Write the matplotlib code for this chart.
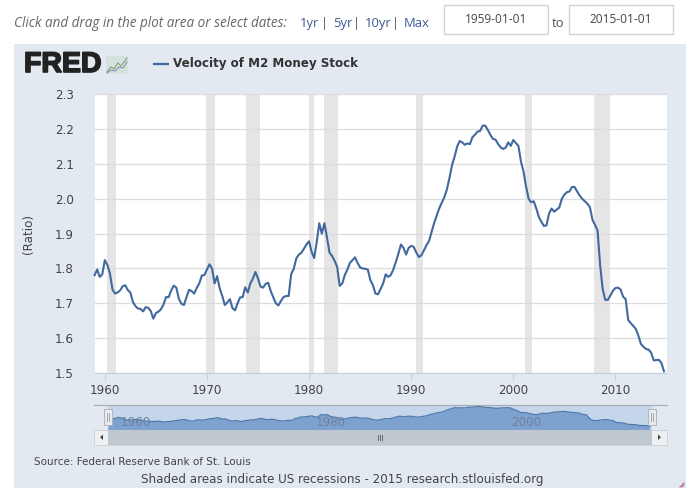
import numpy as np
import matplotlib
matplotlib.use("Agg")
import matplotlib.pyplot as plt
import matplotlib.patheffects as pe
from matplotlib.patches import Rectangle, Polygon

W, H = 700, 498

# Quarterly velocity of M2, 1959 Q1 .. 2014 Q4
velocity = [
    1.781, 1.797, 1.776, 1.783, 1.824, 1.810, 1.786, 1.740,
    1.728, 1.731, 1.737, 1.749, 1.752, 1.738, 1.731, 1.704,
    1.692, 1.685, 1.684, 1.677, 1.689, 1.687, 1.678, 1.656,
    1.672, 1.676, 1.683, 1.697, 1.718, 1.718, 1.737, 1.751,
    1.745, 1.713, 1.699, 1.695, 1.718, 1.739, 1.735, 1.728,
    1.744, 1.757, 1.780, 1.781, 1.797, 1.812, 1.800, 1.757,
    1.778, 1.743, 1.721, 1.695, 1.703, 1.712, 1.686, 1.680,
    1.700, 1.717, 1.718, 1.746, 1.731, 1.757, 1.771, 1.790,
    1.771, 1.748, 1.745, 1.756, 1.759, 1.735, 1.717, 1.700,
    1.694, 1.707, 1.718, 1.721, 1.721, 1.784, 1.799, 1.829,
    1.840, 1.845, 1.857, 1.869, 1.878, 1.848, 1.830, 1.876,
    1.930, 1.900, 1.930, 1.890, 1.846, 1.836, 1.822, 1.805,
    1.750, 1.757, 1.781, 1.797, 1.816, 1.824, 1.832, 1.816,
    1.803, 1.800, 1.799, 1.797, 1.767, 1.752, 1.728, 1.726,
    1.741, 1.757, 1.783, 1.776, 1.781, 1.797, 1.819, 1.843,
    1.869, 1.859, 1.840, 1.859, 1.865, 1.862, 1.846, 1.833,
    1.838, 1.852, 1.867, 1.879, 1.905, 1.931, 1.952, 1.973,
    1.989, 2.005, 2.027, 2.060, 2.097, 2.121, 2.150, 2.166,
    2.162, 2.155, 2.159, 2.157, 2.177, 2.184, 2.193, 2.195,
    2.210, 2.210, 2.198, 2.184, 2.172, 2.170, 2.158, 2.148,
    2.143, 2.147, 2.162, 2.152, 2.169, 2.160, 2.152, 2.107,
    2.078, 2.035, 2.000, 1.990, 1.993, 1.972, 1.948, 1.934,
    1.922, 1.924, 1.958, 1.972, 1.963, 1.969, 1.975, 2.000,
    2.012, 2.019, 2.021, 2.034, 2.034, 2.021, 2.009, 2.000,
    1.993, 1.986, 1.976, 1.940, 1.925, 1.909, 1.810, 1.741,
    1.710, 1.710, 1.722, 1.736, 1.744, 1.745, 1.740, 1.719,
    1.712, 1.652, 1.643, 1.635, 1.626, 1.607, 1.583, 1.575,
    1.569, 1.567, 1.558, 1.536, 1.537, 1.538, 1.529, 1.505,
]
years = [1959 + i / 4 for i in range(len(velocity))]

recession_start = [1960.25, 1969.92, 1973.83, 1980.0, 1981.5, 1990.5, 2001.17, 2007.92]
recession_end = [1961.08, 1970.83, 1975.17, 1980.5, 1982.83, 1991.17, 2001.83, 2009.42]

x_ticks = [1960, 1970, 1980, 1990, 2000, 2010]
y_ticks = [1.5, 1.6, 1.7, 1.8, 1.9, 2.0, 2.1, 2.2, 2.3]
nav_labels = ["1960", "1980", "2000"]
series_name = "Velocity of M2 Money Stock"

PANEL = "#e2e9f1"
LINE = "#41699e"
GRAY = "#555555"
LINK = "#3c5a94"
plt.rcParams["font.family"] = ["DejaVu Sans"]


def px_axes(fig, x0, y0, x1, y1, **kw):
    return fig.add_axes([x0 / W, 1 - y1 / H, (x1 - x0) / W, (y1 - y0) / H], **kw)


fig = plt.figure(figsize=(W / 100, H / 100), dpi=100, facecolor="white")

# Page layer, in pixel coordinates
bg = px_axes(fig, 0, 0, W, H)
bg.set_xlim(0, W)
bg.set_ylim(H, 0)
bg.axis("off")
bg.add_patch(Rectangle((14, 44), 672, 444, fc=PANEL, ec="none"))

bg.text(14, 23, "Click and drag in the plot area or select dates:", style="italic",
        family="Open Sans", fontsize=9.75, color="#666666", va="center")
link_x = [300, 321, 333, 353, 365, 392, 404]
for lx, t, c in zip(link_x, ["1yr", "|", "5yr", "|", "10yr", "|", "Max"],
                    [LINK, GRAY, LINK, GRAY, LINK, GRAY, LINK]):
    bg.text(lx, 23, t, family="Open Sans", fontsize=9.4, color=c, va="center")
for x0, label in zip([444, 568.5], ["1959-01-01", "2015-01-01"]):
    bg.add_patch(Rectangle((x0, 4.5), 104, 29, fc="white", ec="#d4d4d4", lw=1))
    bg.text(x0 + 52, 19, label, family="Open Sans", fontsize=8.6, color="#444444",
            ha="center", va="center")
bg.text(552, 23, "to", family="Open Sans", fontsize=9.4, color=GRAY, va="center")

# Logo
bg.text(24, 65, "FRED", family="Liberation Sans", weight="bold", fontsize=20.5,
        color="#222222", va="center",
        path_effects=[pe.withStroke(linewidth=1.2, foreground="#222222")])
bg.add_patch(Rectangle((106, 56), 22, 18, fc="#d6e0dc", ec="none"))
bg.plot([107, 111, 114, 118, 121, 127], [72, 67, 69, 63, 66, 58], color="#7f9a6a", lw=0.7)
bg.plot([107, 111, 115, 119, 123, 127], [73, 70, 71, 67, 68, 62], color="#6f8fb0", lw=0.7)

# Legend
bg.plot([152.5, 168.5], [63.5, 63.5], color=LINE, lw=1.6, solid_capstyle="butt")
bg.text(173, 63.5, series_name, weight="bold", fontsize=8.6, color="#333333", va="center")

# Main plot
ax = px_axes(fig, 94.6, 94.3, 666.5, 373)
ax.set_xlim(1959, 2015)
ax.set_ylim(1.5, 2.3)
ax.set_facecolor("white")
for s, e in zip(recession_start, recession_end):
    ax.axvspan(s, e, color="#e5e5e5", lw=0, zorder=1)
ax.plot(years, velocity, color=LINE, lw=1.5, zorder=3, clip_on=False,
        solid_joinstyle="round")
ax.set_xticks(x_ticks)
ax.set_yticks(y_ticks)
ax.set_yticklabels([f"{v:.1f}" for v in y_ticks])
ax.grid(axis="y", color="#dcdcdc", lw=0.9, zorder=2)
ax.set_axisbelow(False)
ax.tick_params(axis="x", length=5, width=0.8, color="#c0d0e0", labelsize=8.6,
               labelcolor="#444444", pad=3)
ax.tick_params(axis="y", length=0, labelsize=8.6, labelcolor="#444444", pad=15)
for side in ("top", "right", "left"):
    ax.spines[side].set_visible(False)
ax.spines["bottom"].set_color("#c0d0e0")
ax.set_ylabel("(Ratio)", fontsize=8.6, color="#444444")
ax.yaxis.set_label_coords((35 - 94.6) / 571.9, 0.5)

# Navigator
nav = px_axes(fig, 108, 405.3, 652, 430)
nav.set_xlim(1959, 2015)
nav.set_ylim(1.38, 2.25)
nav.set_facecolor("#c5d6ea")
nav.fill_between(years, velocity, 1.38, color="#7ea2cf", lw=0)
nav.plot(years, velocity, color="#4f79ab", lw=0.9)
nav.set_xticks([])
nav.set_yticks([])
for s in nav.spines.values():
    s.set_visible(False)
for x0, t in zip([121, 316, 511], nav_labels):
    nav.text((x0 - 108) / 544, 0.30, t, transform=nav.transAxes, fontsize=8.6,
             color="#6f8199", va="center", ha="left")

# Page furniture over the plots
top = px_axes(fig, 0, 0, W, H)
top.set_xlim(0, W)
top.set_ylim(H, 0)
top.axis("off")
top.patch.set_alpha(0)
top.plot([94, 667], [405.3, 405.3], color="#a8aeb5", lw=0.9)
top.add_patch(Rectangle((94, 430), 573, 14.5, fc="#eef0f2", ec="#ccd0d4", lw=0.6))
top.add_patch(Rectangle((108, 430), 544, 14.5, fc="#bfc7cf", ec="none"))
for x in (378, 380, 382):
    top.plot([x, x], [434.5, 440], color="#555555", lw=0.6)
top.add_patch(Polygon([[103, 434.5], [103, 440], [100, 437.2]], fc="#444444", ec="none"))
top.add_patch(Polygon([[658, 434.5], [658, 440], [661, 437.2]], fc="#444444", ec="none"))
for x in (108, 652):
    top.add_patch(Rectangle((x - 4, 409), 8, 16, fc="#e8eaec", ec="#a8aeb5", lw=0.6))
    for dx in (-1, 1):
        top.plot([x + dx, x + dx], [413, 421], color="#8a9096", lw=0.5)
top.text(34.5, 462, "Source: Federal Reserve Bank of St. Louis", fontsize=7.5,
         color="#444444", va="center")
top.text(141, 479, "Shaded areas indicate US recessions - 2015 research.stlouisfed.org",
         fontsize=8.55, color="#444444", va="center")
top.plot([680, 684], [487, 483], color="#c060a0", lw=0.8)
top.plot([682, 684], [487, 485], color="#c060a0", lw=0.8)

fig.savefig("out.png", dpi=100, facecolor="white")
